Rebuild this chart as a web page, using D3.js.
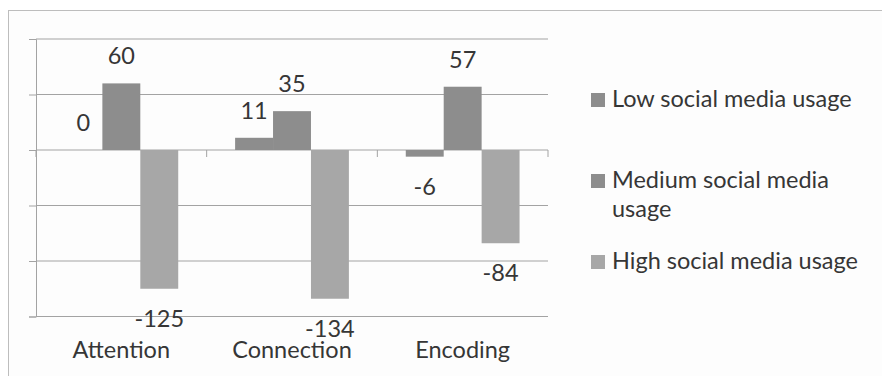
<!DOCTYPE html>
<html>
<head>
<meta charset="utf-8">
<script src="https://cdn.jsdelivr.net/npm/d3@7"></script>
<style>
  html, body { margin: 0; padding: 0; background: #ffffff; }
  svg { display: block; }
  text { font-family: Lato, "Open Sans", sans-serif; fill: #363636; }
</style>
</head>
<body>
<svg id="chart" width="882" height="376"></svg>
<script>
// Scores by social media usage level
const categories = ["Attention", "Connection", "Encoding"];
const seriesNames = ["Low social media usage", "Medium social media usage", "High social media usage"];
const lowUsage = [0, 11, -6];
const mediumUsage = [60, 35, 57];
const highUsage = [-125, -134, -84];
const yTicks = [100, 50, 0, -50, -100, -150];

const seriesValues = [lowUsage, mediumUsage, highUsage];
const colors = ["#8d8d8d", "#8d8d8d", "#a7a7a7"];
const fontSize = 23.5;

const svg = d3.select("#chart");

// background panel and frame
svg.append("rect").attr("x", 0).attr("y", 0).attr("width", 882).attr("height", 376).attr("fill", "#ffffff");
svg.append("rect")
  .attr("x", 8.5).attr("y", 10.5)
  .attr("width", 900).attr("height", 400)
  .attr("fill", "#fdfdfd")
  .attr("stroke", "#bdbdbd").attr("stroke-width", 1);

const plot = { left: 36, right: 548, top: 39, bottom: 316.5 };

const y = d3.scaleLinear().domain([-150, 100]).range([plot.bottom, plot.top]);
const x0 = d3.scaleBand().domain(categories).range([plot.left, plot.right]).padding(0);
const barW = x0.bandwidth() / 4.5;
const x1 = d3.scaleBand().domain(d3.range(seriesNames.length))
  .range([(x0.bandwidth() - 3 * barW) / 2, (x0.bandwidth() + 3 * barW) / 2]).padding(0);

// value axis with small ticks
const yAxis = d3.axisLeft(y).tickValues(yTicks).tickSize(7).tickFormat("");
const gy = svg.append("g").attr("transform", `translate(${plot.left},0)`).call(yAxis);
gy.selectAll("path.domain").attr("stroke", "#a3a3a3");
gy.selectAll(".tick line").attr("stroke", "#a3a3a3");

// horizontal gridlines
svg.append("g").selectAll("line").data(yTicks).join("line")
  .attr("x1", plot.left).attr("x2", plot.right)
  .attr("y1", d => y(d)).attr("y2", d => y(d))
  .attr("stroke", "#a3a3a3").attr("stroke-width", 1);

// category axis along zero, ticks between groups
const xAxisTicks = [plot.left].concat(categories.map(c => x0(c) + x0.bandwidth()));
svg.append("g").selectAll("line").data(xAxisTicks).join("line")
  .attr("x1", d => d).attr("x2", d => d)
  .attr("y1", y(0)).attr("y2", y(0) + 7)
  .attr("stroke", "#a3a3a3");

// bars
const groups = svg.append("g").selectAll("g").data(categories).join("g")
  .attr("transform", c => `translate(${x0(c)},0)`);

groups.selectAll("rect")
  .data((c, i) => seriesValues.map((vals, s) => ({ s, v: vals[i] })))
  .join("rect")
  .attr("x", d => x1(d.s))
  .attr("width", x1.bandwidth())
  .attr("y", d => y(Math.max(0, d.v)))
  .attr("height", d => Math.abs(y(d.v) - y(0)))
  .attr("fill", d => colors[d.s]);

// value labels
groups.selectAll("text.val")
  .data((c, i) => seriesValues.map((vals, s) => ({ s, v: vals[i] })))
  .join("text")
  .attr("class", "val")
  .attr("x", d => x1(d.s) + x1.bandwidth() / 2)
  .attr("y", d => d.v >= 0 ? y(d.v) - 19 : y(d.v) + 38)
  .attr("text-anchor", "middle")
  .attr("font-size", fontSize)
  .text(d => d.v < 0 ? "-" + Math.abs(d.v) : d.v);

// category labels
svg.append("g").selectAll("text").data(categories).join("text")
  .attr("x", c => x0(c) + x0.bandwidth() / 2)
  .attr("y", 358)
  .attr("text-anchor", "middle")
  .attr("font-size", fontSize)
  .text(c => c);

// legend
const legendRows = [
  { lines: ["Low social media usage"], y: 107 },
  { lines: ["Medium social media", "usage"], y: 188 },
  { lines: ["High social media usage"], y: 269 }
];
const legend = svg.append("g");
legendRows.forEach((row, i) => {
  legend.append("rect")
    .attr("x", 591).attr("y", row.y - 14)
    .attr("width", 14).attr("height", 14)
    .attr("fill", colors[i]);
  const t = legend.append("text").attr("x", 612).attr("y", row.y).attr("font-size", fontSize);
  row.lines.forEach((ln, j) => {
    t.append("tspan").attr("x", 612).attr("dy", j === 0 ? 0 : 29).text(ln);
  });
});
</script>
</body>
</html>
